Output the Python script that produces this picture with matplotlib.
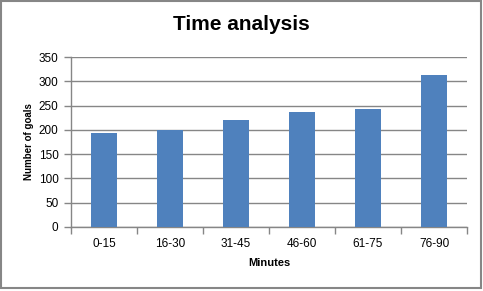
import matplotlib
matplotlib.use('Agg')
import matplotlib.pyplot as plt
import numpy as np

categories = ['0-15', '16-30', '31-45', '46-60', '61-75', '76-90']
goals = [193, 199, 220, 236, 244, 314]
y_ticks = [0, 50, 100, 150, 200, 250, 300, 350]

plt.rcParams['font.family'] = ['Liberation Sans', 'DejaVu Sans']

grey = '#868686'
blue = '#4F81BD'

fig = plt.figure(figsize=(4.83, 2.91), dpi=100)
ax = fig.add_axes([0.147, 0.22, 0.82, 0.584])

x = np.arange(len(categories))
ax.bar(x, goals, width=0.4, color=blue, zorder=3)

ax.set_xlim(-0.5, len(categories) - 0.5)
ax.set_ylim(0, 350)
ax.set_yticks(y_ticks)
ax.set_yticklabels([str(v) for v in y_ticks], fontsize=8.5)
ax.grid(axis='y', color=grey, linewidth=1, zorder=0)

# category labels centred, tick marks on boundaries
ax.set_xticks(x)
ax.set_xticklabels(categories, fontsize=8.5)
ax.tick_params(axis='x', length=0, pad=8)
ax.set_xticks(np.arange(-0.5, len(categories)), minor=True)
ax.tick_params(axis='x', which='minor', length=5, color=grey, width=1)
ax.tick_params(axis='y', length=5, color=grey, width=1, pad=4)

for s in ['top', 'right']:
    ax.spines[s].set_visible(False)
for s in ['left', 'bottom']:
    ax.spines[s].set_color(grey)
    ax.spines[s].set_linewidth(1)

ax.set_xlabel('Minutes', fontsize=8, fontweight='bold', labelpad=6)
ax.set_ylabel('Number of goals', fontsize=7, fontweight='bold', labelpad=3)

fig.text(0.5, 0.915, 'Time analysis', ha='center', va='center',
         fontsize=15, fontweight='bold')

# chart border
fig.patches.append(plt.Rectangle((0.003, 0.01), 0.992, 0.985, transform=fig.transFigure,
                                 fill=False, edgecolor=grey, linewidth=1.5))

fig.savefig('out.png', dpi=100)
